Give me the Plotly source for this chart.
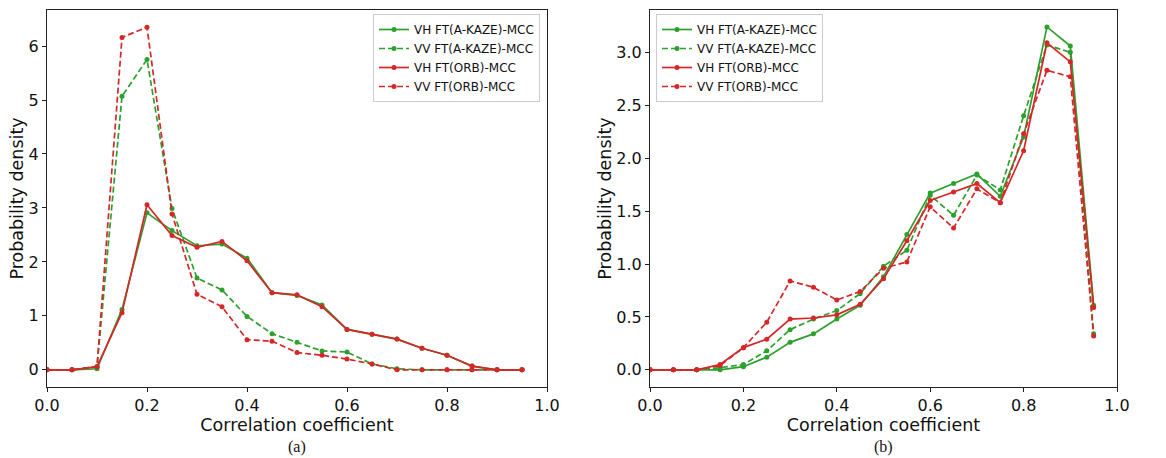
import plotly.graph_objects as go

# ---- data ----
corr = [0.0, 0.05, 0.10, 0.15, 0.20, 0.25, 0.30, 0.35, 0.40, 0.45,
        0.50, 0.55, 0.60, 0.65, 0.70, 0.75, 0.80, 0.85, 0.90, 0.95]

series_names = ["VH FT(A-KAZE)-MCC", "VV FT(A-KAZE)-MCC", "VH FT(ORB)-MCC", "VV FT(ORB)-MCC"]

# panel (a)
vh_akaze_a = [0, 0, 0.02, 1.12, 2.91, 2.58, 2.30, 2.33, 2.07, 1.43, 1.38, 1.20, 0.75, 0.66, 0.57, 0.40, 0.27, 0.07, 0, 0]
vv_akaze_a = [0, 0, 0.06, 5.07, 5.75, 2.99, 1.70, 1.48, 0.99, 0.67, 0.51, 0.35, 0.33, 0.11, 0.02, 0, 0, 0, 0, 0]
vh_orb_a = [0, 0, 0.06, 1.06, 3.06, 2.49, 2.27, 2.38, 2.02, 1.43, 1.39, 1.17, 0.75, 0.66, 0.57, 0.40, 0.27, 0.07, 0, 0]
vv_orb_a = [0, 0, 0.06, 6.16, 6.35, 2.89, 1.40, 1.17, 0.56, 0.53, 0.32, 0.27, 0.20, 0.11, 0, 0, 0, 0, 0, 0]

# panel (b)
vh_akaze_b = [0, 0, 0, 0.0, 0.03, 0.12, 0.26, 0.34, 0.48, 0.61, 0.88, 1.28, 1.67, 1.76, 1.85, 1.64, 2.20, 3.24, 3.06, 0.61]
vv_akaze_b = [0, 0, 0, 0.02, 0.05, 0.18, 0.38, 0.48, 0.56, 0.72, 0.98, 1.13, 1.65, 1.46, 1.84, 1.70, 2.40, 3.07, 3.00, 0.34]
vh_orb_b = [0, 0, 0, 0.05, 0.21, 0.29, 0.48, 0.49, 0.52, 0.62, 0.86, 1.22, 1.60, 1.68, 1.76, 1.58, 2.07, 3.09, 2.91, 0.59]
vv_orb_b = [0, 0, 0, 0.04, 0.21, 0.45, 0.84, 0.78, 0.66, 0.74, 0.96, 1.02, 1.54, 1.34, 1.71, 1.58, 2.23, 2.83, 2.77, 0.32]

x_ticks = [0.0, 0.2, 0.4, 0.6, 0.8, 1.0]
y_ticks_a = [0, 1, 2, 3, 4, 5, 6]
y_ticks_b = [0.0, 0.5, 1.0, 1.5, 2.0, 2.5, 3.0]

# ---- styles ----
GREEN = "#2ca02c"
RED = "#d62728"
colors = [GREEN, GREEN, RED, RED]
dashes = ["solid", "6px,3px", "solid", "6px,3px"]
FONT = "DejaVu Sans"

fig = go.Figure()

panels = [
    ([vh_akaze_a, vv_akaze_a, vh_orb_a, vv_orb_a], "x", "y", "legend"),
    ([vh_akaze_b, vv_akaze_b, vh_orb_b, vv_orb_b], "x2", "y2", "legend2"),
]
for data, xa, ya, lg in panels:
    for name, vals, c, d in zip(series_names, data, colors, dashes):
        fig.add_trace(go.Scatter(
            x=corr, y=vals, name=name, mode="lines+markers",
            line=dict(color=c, width=1.7, dash=d),
            marker=dict(color=c, size=5),
            xaxis=xa, yaxis=ya, legend=lg,
        ))

W, H = 1166, 458
ax_common = dict(
    showline=True, mirror=True, linecolor="#222", linewidth=1,
    ticks="outside", ticklen=4, tickcolor="#222", tickwidth=1,
    showgrid=False, zeroline=False, automargin=False,
    tickfont=dict(family=FONT, size=16, color="#111"),
)
title_font = dict(family=FONT, size=17.5, color="#111")
ydom = [(H - 387) / H, (H - 10) / H]
legend_common = dict(
    bgcolor="rgba(255,255,255,0.8)", bordercolor="#cccccc", borderwidth=1,
    font=dict(family=FONT, size=12, color="#111"), tracegroupgap=0, itemwidth=30,
)

fig.update_layout(
    width=W, height=H,
    margin=dict(l=0, r=0, t=0, b=0),
    paper_bgcolor="white", plot_bgcolor="white",
    xaxis=dict(domain=[47 / W, 547 / W], range=[0, 1], tickvals=x_ticks, tickformat=".1f",
               anchor="y", title=dict(text="Correlation coefficient", font=title_font, standoff=4), **ax_common),
    yaxis=dict(domain=ydom, range=[-0.3175, 6.6675], tickvals=y_ticks_a, tickformat="d",
               anchor="x", title=dict(text="Probability density", font=title_font, standoff=0), **ax_common),
    xaxis2=dict(domain=[650 / W, 1117 / W], range=[0, 1], tickvals=x_ticks, tickformat=".1f",
                anchor="y2", title=dict(text="Correlation coefficient", font=title_font, standoff=4), **ax_common),
    yaxis2=dict(domain=ydom, range=[-0.162, 3.40], tickvals=y_ticks_b, tickformat=".1f",
                anchor="x2", title=dict(text="Probability density", font=title_font, standoff=0), **ax_common),
    legend=dict(x=540 / W, y=(H - 14) / H, xanchor="right", yanchor="top", **legend_common),
    legend2=dict(x=656 / W, y=(H - 14) / H, xanchor="left", yanchor="top", **legend_common),
    annotations=[
        dict(text="(a)", x=297 / W, y=(H - 447) / H, xref="paper", yref="paper",
             xanchor="center", yanchor="middle", showarrow=False,
             font=dict(family="Liberation Serif", size=16, color="#111")),
        dict(text="(b)", x=883 / W, y=(H - 447) / H, xref="paper", yref="paper",
             xanchor="center", yanchor="middle", showarrow=False,
             font=dict(family="Liberation Serif", size=16, color="#111")),
    ],
)

fig.write_html("out.html")
